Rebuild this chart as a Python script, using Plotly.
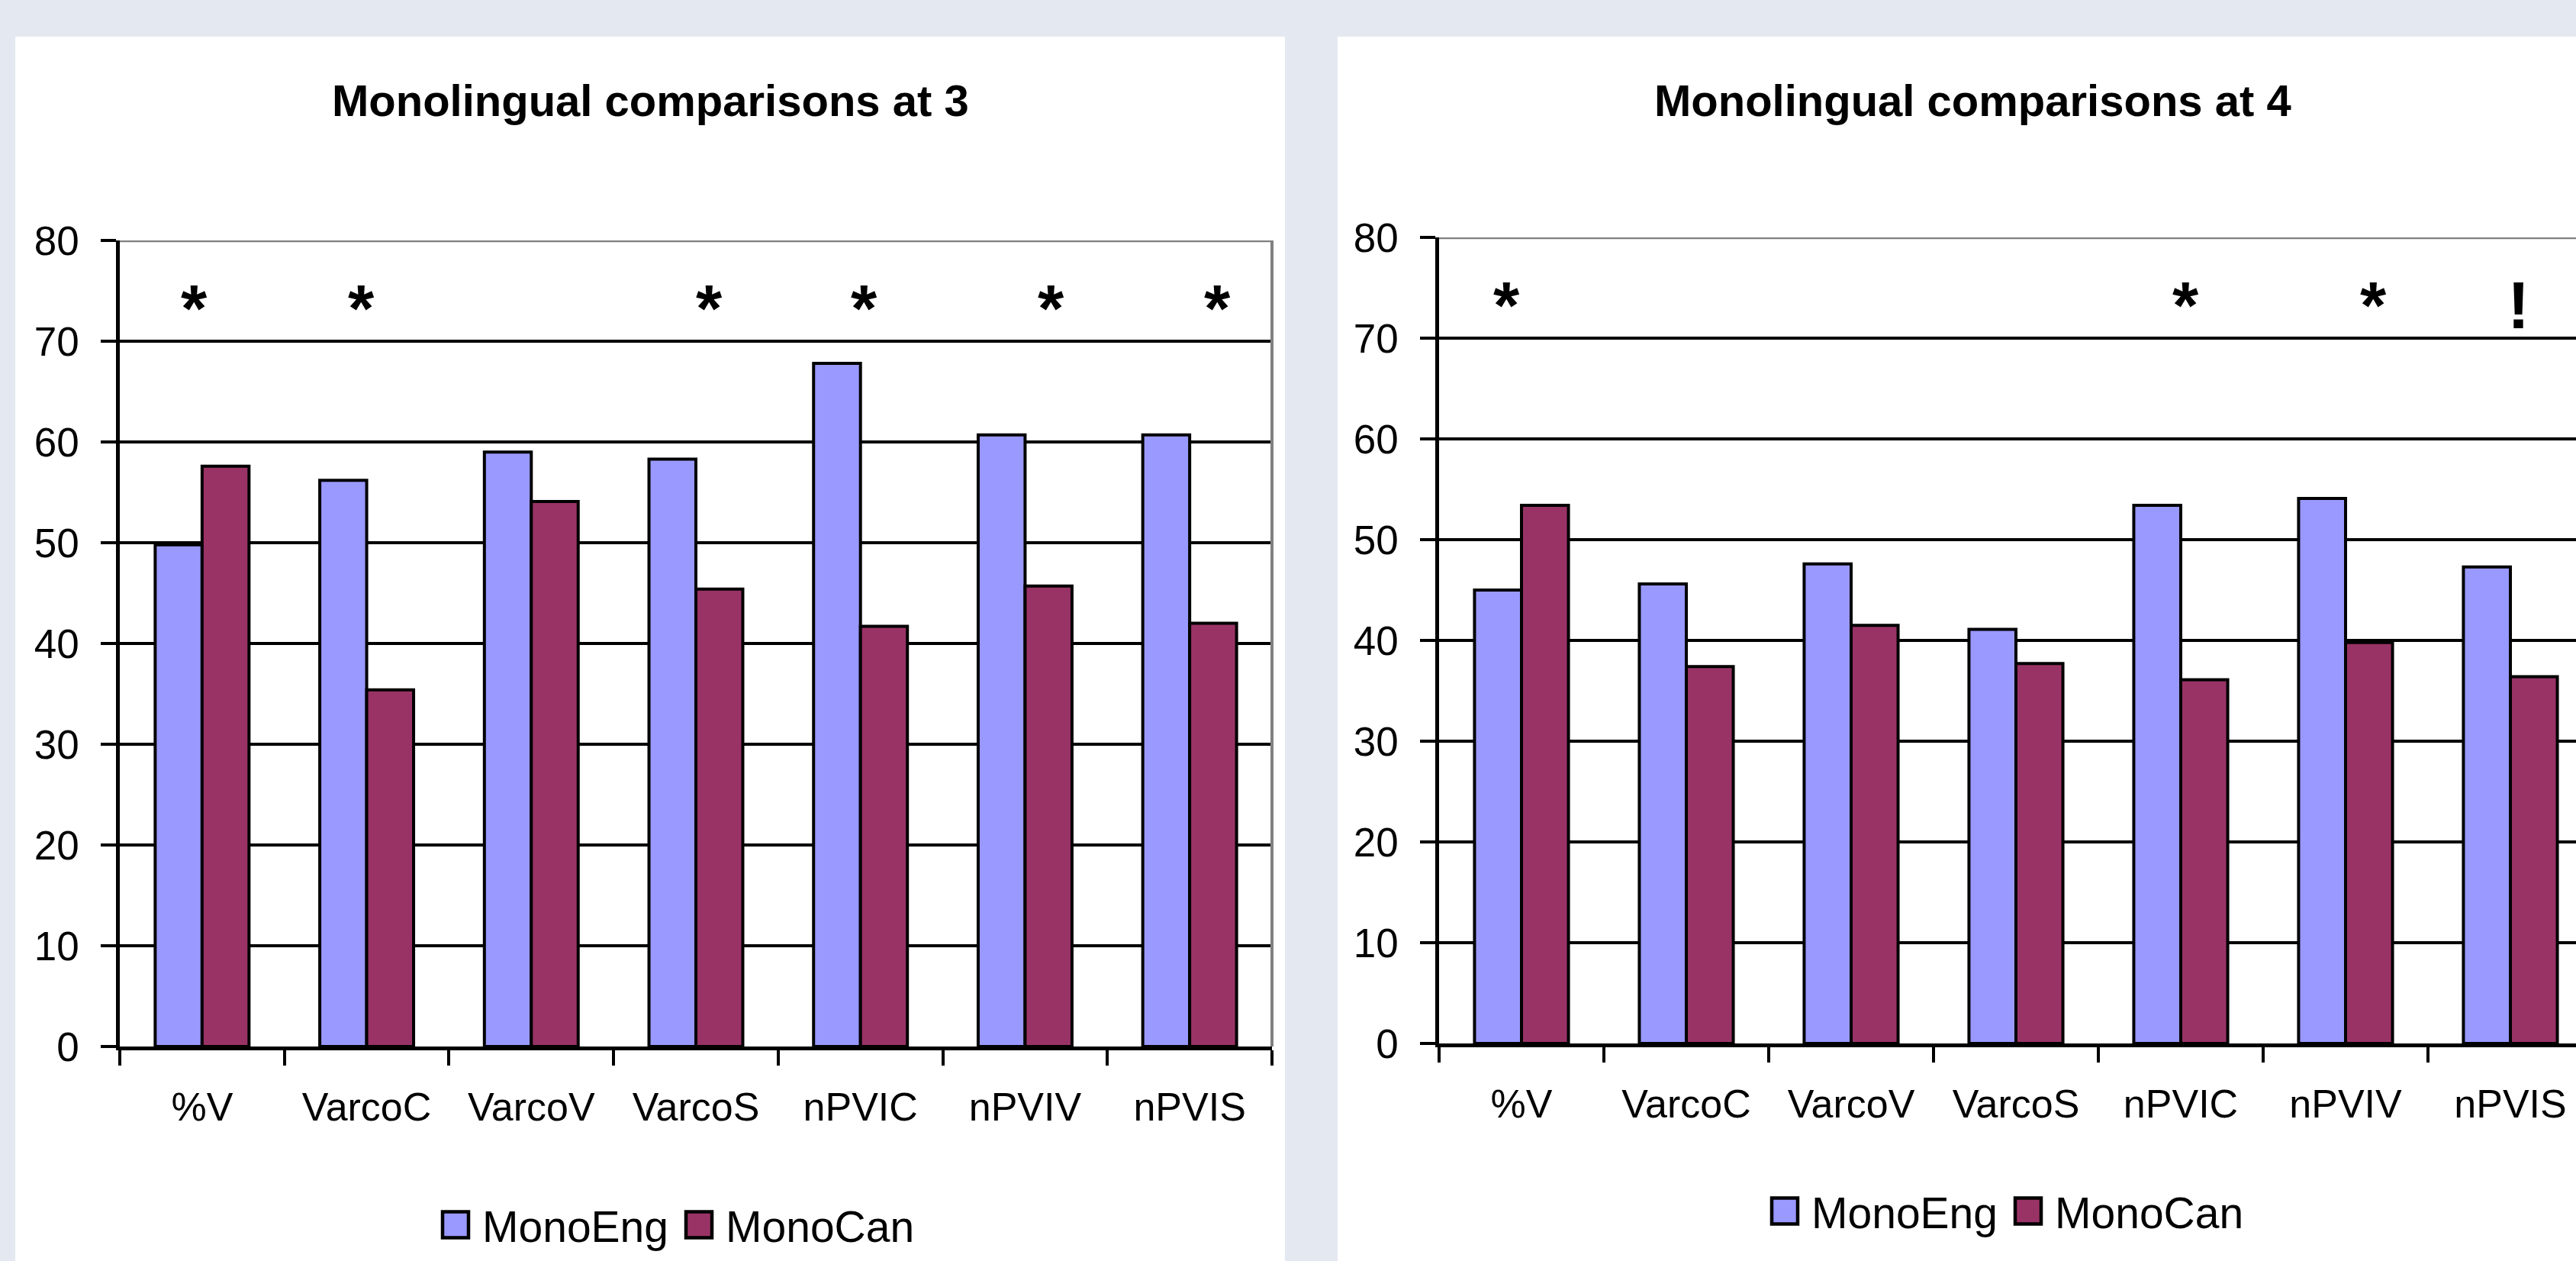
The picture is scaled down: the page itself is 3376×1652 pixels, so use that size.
import plotly.graph_objects as go

# ---------------- data ----------------
categories = ["%V", "VarcoC", "VarcoV", "VarcoS", "nPVIC", "nPVIV", "nPVIS"]
mono_eng_at3 = [49.8, 56.2, 59.0, 58.3, 67.8, 60.7, 60.7]
mono_can_at3 = [57.6, 35.4, 54.1, 45.4, 41.7, 45.7, 42.0]
mono_eng_at4 = [45.0, 45.6, 47.6, 41.1, 53.4, 54.1, 47.3]
mono_can_at4 = [53.4, 37.4, 41.5, 37.7, 36.1, 39.8, 36.4]
marks_at3 = ["*", "*", "", "*", "*", "*", "*"]
marks_at4 = ["*", "", "", "", "*", "*", "!"]
titles = ["Monolingual comparisons at 3", "Monolingual comparisons at 4"]
y_ticks = [0, 10, 20, 30, 40, 50, 60, 70, 80]

# ---------------- style ----------------
W, H = 3376, 1652
FONT = "Liberation Sans, Arial, sans-serif"
ENG = "#9999FF"
CAN = "#993366"
PAGE = "#E4E8F0"
# small horizontal nudges of the significance marks (fraction of a category)
mark_shift_at3 = [-0.05, -0.035, 0, 0.08, 0.02, 0.16, 0.17]
mark_shift_at4 = [-0.09, 0, 0, 0, 0.03, 0.17, 0.05]

fig = go.Figure()
series = [
    ("x", "y", "legend", mono_eng_at3, mono_can_at3),
    ("x2", "y2", "legend2", mono_eng_at4, mono_can_at4),
]
for xa, ya, lg, eng, can in series:
    fig.add_trace(go.Bar(x=categories, y=eng, name="MonoEng", xaxis=xa, yaxis=ya,
                         legend=lg, marker=dict(color=ENG, line=dict(color="black", width=4))))
    fig.add_trace(go.Bar(x=categories, y=can, name="MonoCan", xaxis=xa, yaxis=ya,
                         legend=lg, marker=dict(color=CAN, line=dict(color="black", width=4))))

yax = dict(range=[0, 80], tickvals=y_ticks, showgrid=True, gridcolor="black", gridwidth=3.5,
           zeroline=False, showline=True, linecolor="black", linewidth=4.5,
           ticks="outside", ticklen=20, tickwidth=3.5, tickcolor="black", ticklabelstandoff=18,
           tickfont=dict(family=FONT, size=53, color="black"), fixedrange=True)
xax = dict(type="category", showgrid=False, zeroline=False, showline=True,
           linecolor="black", linewidth=5, ticks="outside", tickson="boundaries",
           ticklen=20, tickwidth=3.5, tickcolor="black", ticklabelstandoff=30,
           tickfont=dict(family=FONT, size=52, color="black"), fixedrange=True)

left_x = [157 / W, 1667 / W]
left_y = [1 - 1371 / H, 1 - 315 / H]
right_x = [1886 / W, 1.0]
right_y = [1 - 1367 / H, 1 - 311 / H]
right_span = (W - 1886) / 216.0

fig.update_layout(
    width=W, height=H, autosize=False,
    margin=dict(l=0, r=0, t=0, b=0, pad=0, autoexpand=False),
    paper_bgcolor=PAGE, plot_bgcolor="white",
    barmode="group", bargap=0.43, bargroupgap=0,
    showlegend=True,
    xaxis=dict(xax, domain=left_x, anchor="y", range=[-0.5, 6.5]),
    yaxis=dict(yax, domain=left_y, anchor="x"),
    xaxis2=dict(xax, domain=right_x, anchor="y2", range=[-0.5, -0.5 + right_span]),
    yaxis2=dict(yax, domain=right_y, anchor="x2"),
    legend=dict(orientation="h", x=883 / W, xanchor="center", y=1 - 1605 / H, yanchor="middle",
                font=dict(family=FONT, size=57, color="black"), itemwidth=60,
                bgcolor="rgba(0,0,0,0)", traceorder="normal"),
    legend2=dict(orientation="h", x=2625 / W, xanchor="center", y=1 - 1587 / H, yanchor="middle",
                 font=dict(family=FONT, size=57, color="black"), itemwidth=60,
                 bgcolor="rgba(0,0,0,0)", traceorder="normal"),
)

shapes = [
    # white chart panels
    dict(type="rect", xref="paper", yref="paper", x0=20 / W, x1=1684 / W, y0=0, y1=1 - 48 / H,
         fillcolor="white", line=dict(width=0), layer="below"),
    dict(type="rect", xref="paper", yref="paper", x0=1753 / W, x1=1.0, y0=0, y1=1 - 48 / H,
         fillcolor="white", line=dict(width=0), layer="below"),
    # grey plot-area frame (top / right)
    dict(type="line", xref="x domain", yref="y", x0=0, x1=1, y0=80, y1=80,
         line=dict(color="#808080", width=4.5), layer="above"),
    dict(type="line", xref="x domain", yref="y", x0=1, x1=1, y0=0, y1=80,
         line=dict(color="#808080", width=4), layer="above"),
    dict(type="line", xref="x2 domain", yref="y2", x0=0, x1=1, y0=80, y1=80,
         line=dict(color="#808080", width=4.5), layer="above"),
]
fig.update_layout(shapes=shapes)

annotations = []
for t, cx in zip(titles, [852 / W, 2585 / W]):
    annotations.append(dict(text="<b>" + t + "</b>", xref="paper", yref="paper", x=cx,
                            y=1 - 131 / H, xanchor="center", yanchor="middle", showarrow=False,
                            font=dict(family=FONT, size=58, color="black")))
for marks, shifts, xa, ya in [(marks_at3, mark_shift_at3, "x", "y"),
                              (marks_at4, mark_shift_at4, "x2", "y2")]:
    for i, (m, s) in enumerate(zip(marks, shifts)):
        if m:
            annotations.append(dict(text="<b>" + m + "</b>", xref=xa, yref=ya, x=i + s, y=73.3,
                                    xanchor="center", yanchor="middle", showarrow=False,
                                    font=dict(family=FONT, size=88, color="black")))
fig.update_layout(annotations=annotations)

post = """
document.body.style.margin = '0';
document.body.style.overflow = 'hidden';
var gd = document.getElementById('{plot_id}');
gd.querySelectorAll('.legendpoints path').forEach(function(p){
  p.setAttribute('d', 'M17,17H-17V-17H17Z');
  p.style.strokeWidth = '4.5px';
  p.style.stroke = 'black';
});
"""
fig.write_html("out.html", post_script=post, config={"displayModeBar": False})
